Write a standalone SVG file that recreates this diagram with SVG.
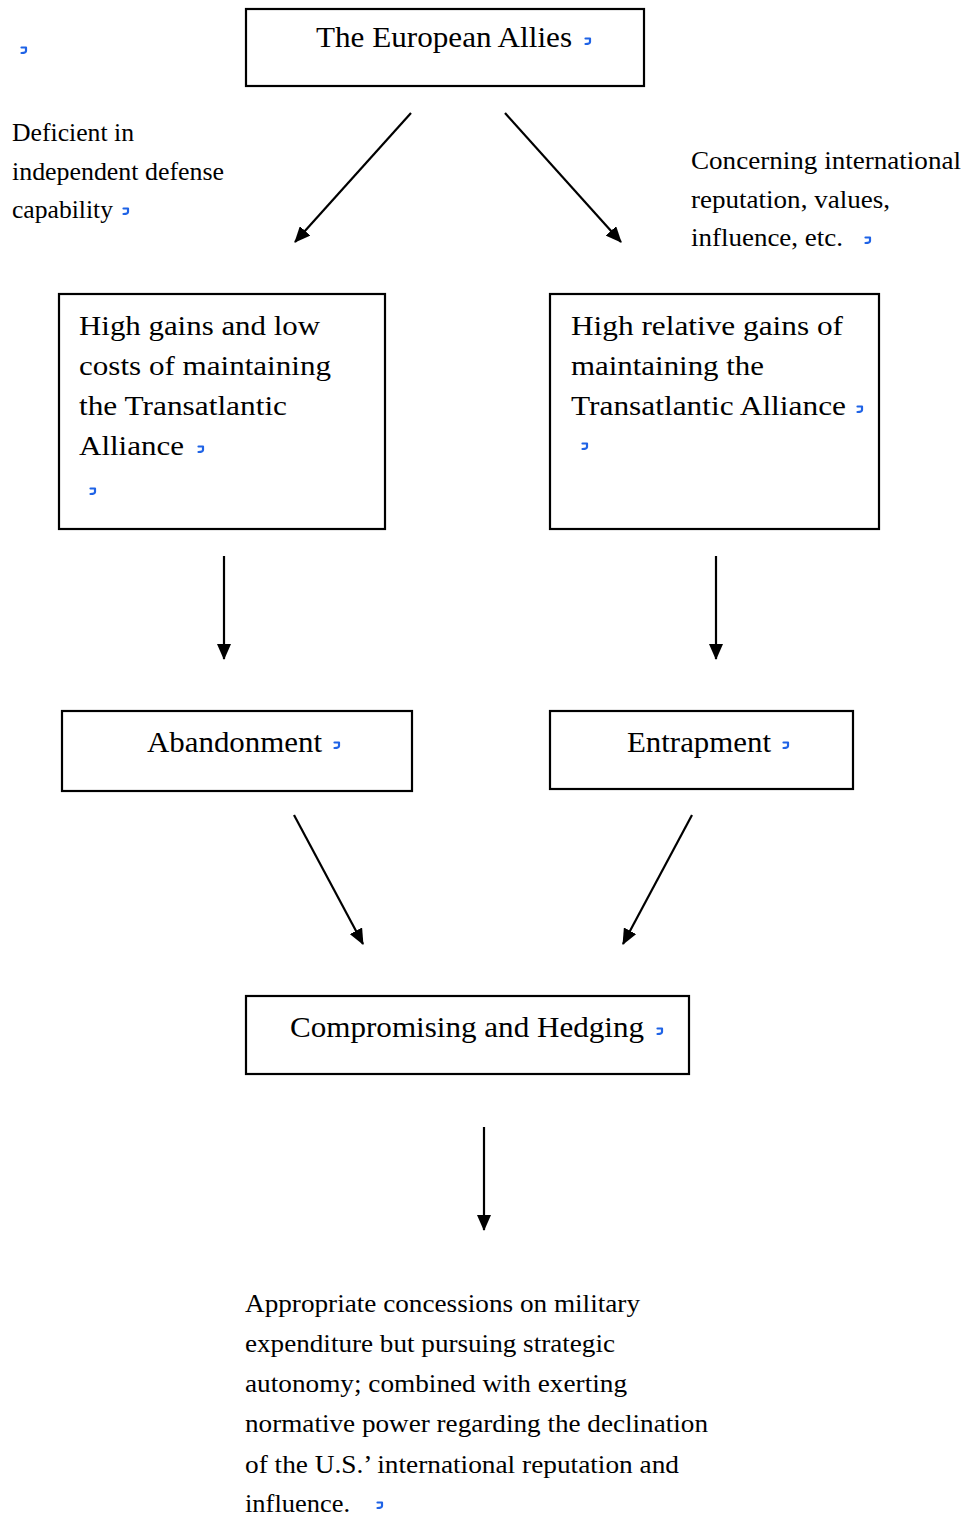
<svg xmlns="http://www.w3.org/2000/svg" xmlns:xlink="http://www.w3.org/1999/xlink" width="966" height="1518" viewBox="0 0 966 1518">
<style>
.box{fill:#fff;stroke:#000;stroke-width:2.2}
.t{font-family:"Liberation Serif","Times New Roman",serif;fill:#000}
.big{font-size:29px}
.mid{font-size:28px}
.sm{font-size:25px}
.conn line{stroke:#000;stroke-width:2.2;marker-end:url(#ah)}
.pm{fill:none;stroke:#1f63e6;stroke-width:2.2;stroke-linecap:round;stroke-linejoin:round}
</style>
<defs>
<marker id="ah" viewBox="0 0 16 14" refX="15" refY="7" markerWidth="16" markerHeight="14" markerUnits="userSpaceOnUse" orient="auto">
<path d="M0,0 L16,7 L0,14 z" fill="#000"/>
</marker>
<path id="pm" class="pm" d="M-2.5,-2.5 L2,-2.5 L2,1 Q2,3 -2.5,3"/>
</defs>
<rect width="966" height="1518" fill="#fff"/>

<g id="connectors" class="conn">
<line x1="411" y1="113" x2="295" y2="242"/>
<line x1="505" y1="113" x2="621" y2="242"/>
<line x1="224" y1="556" x2="224" y2="659"/>
<line x1="716" y1="556" x2="716" y2="659"/>
<line x1="294" y1="815" x2="363" y2="944"/>
<line x1="692" y1="815" x2="623" y2="944"/>
<line x1="484" y1="1127" x2="484" y2="1230"/>
</g>

<g id="mark-top-left"><use href="#pm" x="24" y="50"/></g>

<g id="node-european-allies">
<rect class="box" x="246" y="9" width="398" height="77"/>
<text class="t big" x="316" y="47" textLength="256" lengthAdjust="spacingAndGlyphs">The European Allies</text>
<use href="#pm" x="588" y="41"/>
</g>

<g id="label-deficient">
<text class="t sm" x="12" y="141" textLength="122" lengthAdjust="spacingAndGlyphs">Deficient in</text>
<text class="t sm" x="12" y="180" textLength="212" lengthAdjust="spacingAndGlyphs">independent defense</text>
<text class="t sm" x="12" y="218" textLength="101" lengthAdjust="spacingAndGlyphs">capability</text>
<use href="#pm" x="126" y="211"/>
</g>

<g id="label-concerning">
<text class="t sm" x="691" y="169" textLength="270" lengthAdjust="spacingAndGlyphs">Concerning international</text>
<text class="t sm" x="691" y="208" textLength="199" lengthAdjust="spacingAndGlyphs">reputation, values,</text>
<text class="t sm" x="691" y="246" textLength="152" lengthAdjust="spacingAndGlyphs">influence, etc.</text>
<use href="#pm" x="868" y="240"/>
</g>

<g id="node-high-gains">
<rect class="box" x="59" y="294" width="326" height="235"/>
<text class="t mid" x="79" y="335" textLength="241" lengthAdjust="spacingAndGlyphs">High gains and low</text>
<text class="t mid" x="79" y="375" textLength="252" lengthAdjust="spacingAndGlyphs">costs of maintaining</text>
<text class="t mid" x="79" y="415" textLength="208" lengthAdjust="spacingAndGlyphs">the Transatlantic</text>
<text class="t mid" x="79" y="455" textLength="105" lengthAdjust="spacingAndGlyphs">Alliance</text>
<use href="#pm" x="201" y="449"/>
<use href="#pm" x="93" y="491"/>
</g>

<g id="node-relative-gains">
<rect class="box" x="550" y="294" width="329" height="235"/>
<text class="t mid" x="571" y="335" textLength="272" lengthAdjust="spacingAndGlyphs">High relative gains of</text>
<text class="t mid" x="571" y="375" textLength="193" lengthAdjust="spacingAndGlyphs">maintaining the</text>
<text class="t mid" x="571" y="415" textLength="275" lengthAdjust="spacingAndGlyphs">Transatlantic Alliance</text>
<use href="#pm" x="860" y="409"/>
<use href="#pm" x="585" y="446"/>
</g>

<g id="node-abandonment">
<rect class="box" x="62" y="711" width="350" height="80"/>
<text class="t big" x="147" y="752" textLength="175" lengthAdjust="spacingAndGlyphs">Abandonment</text>
<use href="#pm" x="337" y="745"/>
</g>

<g id="node-entrapment">
<rect class="box" x="550" y="711" width="303" height="78"/>
<text class="t big" x="627" y="752" textLength="144" lengthAdjust="spacingAndGlyphs">Entrapment</text>
<use href="#pm" x="786" y="745"/>
</g>

<g id="node-compromising">
<rect class="box" x="246" y="996" width="443" height="78"/>
<text class="t big" x="290" y="1037" textLength="354" lengthAdjust="spacingAndGlyphs">Compromising and Hedging</text>
<use href="#pm" x="660" y="1031"/>
</g>

<g id="label-outcome">
<text class="t sm" x="245" y="1312" textLength="395" lengthAdjust="spacingAndGlyphs">Appropriate concessions on military</text>
<text class="t sm" x="245" y="1352" textLength="370" lengthAdjust="spacingAndGlyphs">expenditure but pursuing strategic</text>
<text class="t sm" x="245" y="1392" textLength="382" lengthAdjust="spacingAndGlyphs">autonomy; combined with exerting</text>
<text class="t sm" x="245" y="1432" textLength="463" lengthAdjust="spacingAndGlyphs">normative power regarding the declination</text>
<text class="t sm" x="245" y="1473" textLength="434" lengthAdjust="spacingAndGlyphs">of the U.S.’ international reputation and</text>
<text class="t sm" x="245" y="1512" textLength="105" lengthAdjust="spacingAndGlyphs">influence.</text>
<use href="#pm" x="380" y="1505"/>
</g>
</svg>
